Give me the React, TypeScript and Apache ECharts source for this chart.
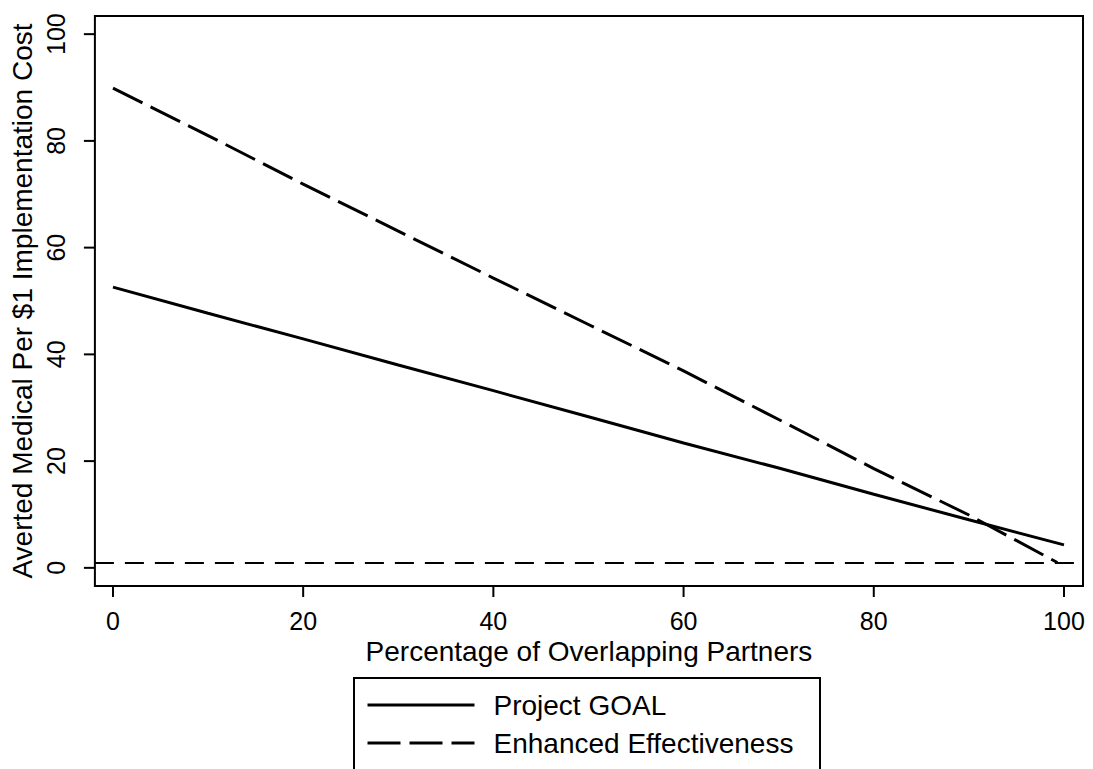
import React, { useEffect, useRef } from "react";
import * as echarts from "echarts";

const xTicks = [0, 20, 40, 60, 80, 100];
const yTicks = [0, 20, 40, 60, 80, 100];

const goalX = [0, 10, 20, 30, 40, 50, 60, 70, 80, 90, 100];
const goalY = [52.6, 47.7, 42.9, 38.0, 33.2, 28.3, 23.4, 18.7, 13.8, 9.0, 4.3];

const enhX = [0, 10, 20, 30, 40, 50, 60, 70, 80, 90, 99.3];
const enhY = [89.9, 81.0, 71.9, 63.1, 54.3, 45.6, 36.9, 27.8, 18.6, 9.9, 1.0];

const refY = 1;

const seriesNames = ["Project GOAL", "Enhanced Effectiveness"];
const xTitle = "Percentage of Overlapping Partners";
const yTitle = "Averted Medical Per $1 Implementation Cost";

const X_MIN = -1.9;
const X_MAX = 102;
const Y_MIN = -3.4;
const Y_MAX = 103.4;

const W = 1093;
const H = 769;
const G_LEFT = 93;
const G_TOP = 16;
const G_RIGHT = 10;
const G_BOTTOM = 183;

const FONT = 'Arial, "Liberation Sans", sans-serif';
const TICK = 11;

export default function App() {
  const ref = useRef<HTMLDivElement>(null);
  useEffect(() => {
    if (!ref.current) return;
    const chart = echarts.init(ref.current, null, { renderer: "svg" });
    const pair = (xs: number[], ys: number[]) => xs.map((x, i) => [x, ys[i]]);
    const legendFrame = {
      type: "rect",
      id: "legendFrame",
      z: 1,
      silent: true,
      shape: { x: 354, y: 678, width: 466, height: 130 },
      style: { fill: "#fff", stroke: "#000", lineWidth: 2 },
    };
    chart.setOption({
      animation: false,
      backgroundColor: "#fff",
      textStyle: { fontFamily: FONT, color: "#000" },
      grid: {
        left: G_LEFT,
        top: G_TOP,
        right: G_RIGHT,
        bottom: G_BOTTOM,
        show: true,
        borderColor: "#000",
        borderWidth: 2,
        containLabel: false,
      },
      graphic: [legendFrame],
      xAxis: {
        type: "value",
        position: "bottom",
        min: X_MIN,
        max: X_MAX,
        name: xTitle,
        nameLocation: "middle",
        nameGap: 47,
        nameTextStyle: { fontSize: 28, fontFamily: FONT, color: "#000" },
        axisLine: { show: false, onZero: false },
        splitLine: { show: false },
        axisTick: { show: false },
        axisLabel: {
          fontSize: 25,
          fontFamily: FONT,
          color: "#000",
          margin: 22,
          customValues: xTicks,
          formatter: (v: number) => String(v),
        },
      },
      yAxis: {
        type: "value",
        position: "left",
        min: Y_MIN,
        max: Y_MAX,
        name: yTitle,
        nameLocation: "middle",
        nameGap: 47,
        nameTextStyle: { fontSize: 28, fontFamily: FONT, color: "#000" },
        axisLine: { show: false, onZero: false },
        splitLine: { show: false },
        axisTick: { show: false },
        axisLabel: {
          fontSize: 25,
          fontFamily: FONT,
          color: "#000",
          margin: 26,
          rotate: 90,
          customValues: yTicks,
          formatter: (v: number) => String(v),
        },
      },
      legend: {
        orient: "vertical",
        left: 354,
        top: 678,
        z: 5,
        padding: [13, 30, 2, 12],
        itemWidth: 107,
        itemHeight: 30,
        itemGap: 10,
        borderWidth: 0,
        itemStyle: { color: "rgba(0,0,0,0)", borderWidth: 0, opacity: 0 },
        lineStyle: { width: 3 },
        textStyle: {
          fontSize: 28,
          fontFamily: FONT,
          color: "#000",
          padding: [0, 0, 0, 14],
        },
        data: seriesNames,
      },
      series: [
        {
          name: seriesNames[0],
          type: "line",
          data: pair(goalX, goalY),
          symbol: "none",
          lineStyle: { color: "#000", width: 3, type: "solid" },
          itemStyle: { color: "#000" },
          z: 3,
          markLine: {
            silent: true,
            symbol: "none",
            label: { show: false },
            lineStyle: { color: "#000", width: 2, type: [19, 11] },
            data: [{ yAxis: refY }],
          },
        },
        {
          name: seriesNames[1],
          type: "line",
          data: pair(enhX, enhY),
          symbol: "none",
          lineStyle: { color: "#000", width: 3, type: [33, 9] },
          itemStyle: { color: "#000" },
          z: 3,
        },
      ],
    });

    const plotW = W - G_LEFT - G_RIGHT;
    const plotH = H - G_TOP - G_BOTTOM;
    const toPx = (v: number): number => {
      let r: any;
      try {
        r = chart.convertToPixel({ xAxisIndex: 0 }, v);
      } catch (e) {
        r = undefined;
      }
      const n = Number(r);
      return isFinite(n) ? n : G_LEFT + ((v - X_MIN) / (X_MAX - X_MIN)) * plotW;
    };
    const toPy = (v: number): number => {
      let r: any;
      try {
        r = chart.convertToPixel({ yAxisIndex: 0 }, v);
      } catch (e) {
        r = undefined;
      }
      const n = Number(r);
      return isFinite(n) ? n : G_TOP + plotH - ((v - Y_MIN) / (Y_MAX - Y_MIN)) * plotH;
    };
    const xBase = toPy(Y_MIN);
    const yBase = toPx(X_MIN);
    const graphics: any[] = [legendFrame];
    xTicks.forEach((v, i) => {
      const px = toPx(v);
      graphics.push({
        type: "line",
        id: "xt" + i,
        silent: true,
        z: 100,
        shape: { x1: px, y1: xBase, x2: px, y2: xBase + TICK },
        style: { stroke: "#000", lineWidth: 2 },
      });
    });
    yTicks.forEach((v, i) => {
      const py = toPy(v);
      graphics.push({
        type: "line",
        id: "yt" + i,
        silent: true,
        z: 100,
        shape: { x1: yBase - TICK, y1: py, x2: yBase, y2: py },
        style: { stroke: "#000", lineWidth: 2 },
      });
    });
    chart.setOption({ graphic: graphics });

    return () => chart.dispose();
  }, []);
  return (
    <div
      ref={ref}
      style={{ position: "absolute", left: 0, top: 0, width: W, height: H }}
    />
  );
}
